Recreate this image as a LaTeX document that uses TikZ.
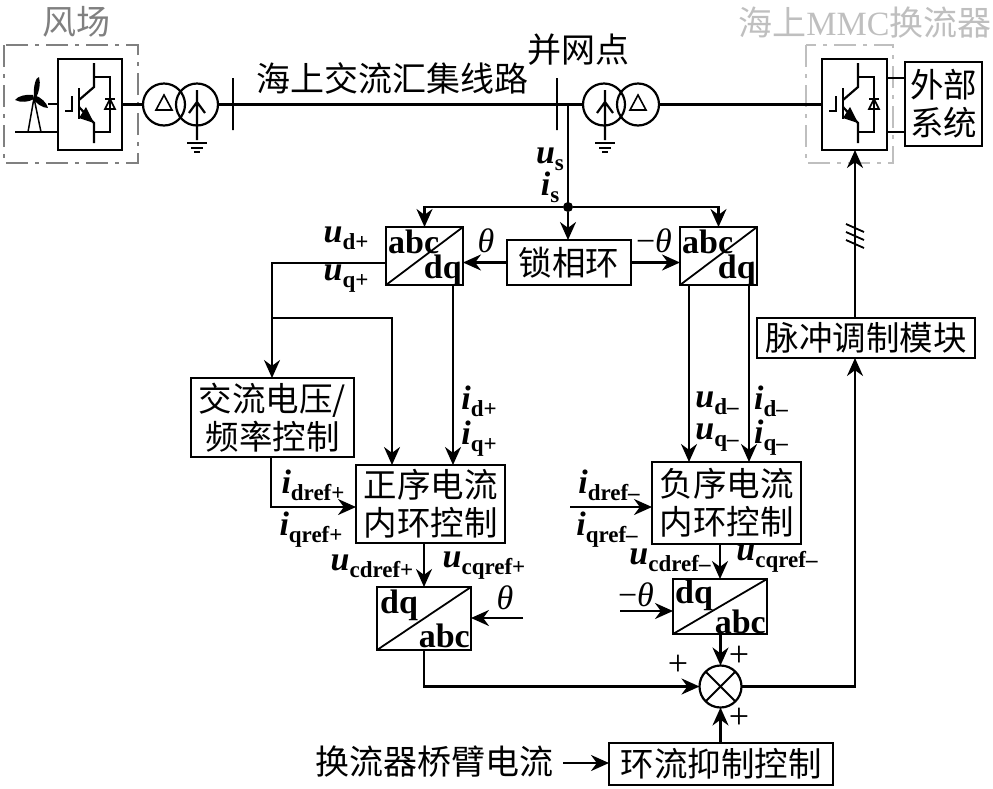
\documentclass[tikz,border=0pt]{standalone}
\usepackage{fontspec}
\setmainfont{Liberation Serif}
\newfontfamily\cjk{Noto Sans CJK SC}
\usetikzlibrary{arrows.meta,calc}
\tikzset{
  ctrl/.style={draw=black,line width=2.2pt,inner sep=0pt,outer sep=0pt,align=center,font=\cjk\fontsize{33.5}{38}\selectfont},
  park/.style={draw=black,line width=2.2pt,inner sep=0pt,outer sep=0pt},
  wire/.style={line width=2.2pt},
  sigin/.style={line width=2.2pt,-{Stealth[length=18pt,width=16pt]}},
  cntext/.style={inner sep=0pt,font=\cjk\fontsize{34}{38}\selectfont},
  sig/.style={inner sep=0pt,font=\fontsize{34}{34}\selectfont},
  symb/.style={inner sep=0pt,font=\bfseries\fontsize{34}{34}\selectfont},
  frame/.style={line width=1.8pt,dash pattern=on 22pt off 7pt on 4pt off 7pt},
  xfmr/.style={draw=black,circle,line width=2.2pt,minimum size=42pt,inner sep=0pt,outer sep=0pt},
}
\newcommand{\vsub}[2]{\textbf{\textit{#1}}{\bfseries\fontsize{23}{23}\selectfont\raisebox{-7pt}{#2}}}
\newcommand{\igbt}[1]{% x offset of the valve symbol
  \begin{scope}[xshift=#1pt]
    \draw[wire] (94,63) -- (94,87) -- (79,100);
    \draw[wire] (79,88) -- (79,119);
    \draw[wire] (72,96) -- (72,111) -- (65,111);
    \draw[wire] (79,107) -- (94,123) -- (94,143);
    \fill (94,123) -- (86,107) -- (79,118) -- cycle;
    \draw[wire] (94,77) -- (110,77) -- (110,132) -- (94,132);
    \draw[line width=1.6pt] (105,109) -- (115,109) -- (110,99) -- cycle;
    \draw[line width=1.8pt] (105,99) -- (115,99);
  \end{scope}
}
\newcommand{\earth}[2]{% x, y of the top conductor
  \draw[wire] (#1-10,#2) -- (#1+10,#2);
  \draw[wire] (#1-6,#2+5) -- (#1+6,#2+5);
  \draw[wire] (#1-3,#2+9) -- (#1+3,#2+9);
}
\begin{document}
\begin{tikzpicture}[x=1pt,y=-1pt]
  \useasboundingbox (0,0) rectangle (993,788);
  % wind farm side
  \draw[frame,gray] (4,45) rectangle (138,163);
  \node[cntext,gray] (farm) at (76,22) {风场};
  \node[park,minimum width=64pt,minimum height=91pt] (vsc) at (90,104.5) {};
  \igbt{0}
  \coordinate (gen) at (48,104);
  \coordinate (base) at (15,132);
  \draw[wire] (gen) -- (vsc.west |- gen);
  \draw[wire] (base) -- (vsc.west |- base);
  \draw[line width=1.5pt] (34,98) -- (28,132) (34,98) -- (41,132);
  \fill (34,97) .. controls (33,86) and (36,77) .. (39,77) .. controls (41,84) and (39,92) .. (36,98) -- cycle;
  \fill (33,95) .. controls (26,94) and (18,96) .. (15,100) .. controls (21,103) and (29,102) .. (34,99) -- cycle;
  \fill (34,95) .. controls (41,97) and (47,103) .. (48,108) .. controls (42,108) and (36,103) .. (33,99) -- cycle;
  \node[xfmr] (tr1a) at (164,104.5) {};
  \node[xfmr] (tr1b) at (197,104.5) {};
  \draw[wire] (vsc.east |- tr1a) -- (tr1a.west);
  \draw[line width=1.6pt] (156,110) -- (172,110) -- (164,95) -- cycle;
  \draw[wire] (197,90) -- (197,140) (189,113) -- (197,102) -- (205,113);
  \earth{197}{143}
  % collector line
  \node[wire,draw,inner sep=0pt,minimum width=0pt,minimum height=52pt] (bus1) at (233,104) {};
  \node[wire,draw,inner sep=0pt,minimum width=0pt,minimum height=52pt] (bus2) at (557,104) {};
  \node[cntext] (line) at (392,78) {海上交流汇集线路};
  \node[cntext] (pcc) at (578,50) {并网点};
  \node[xfmr] (tr2a) at (604,104.5) {};
  \node[xfmr] (tr2b) at (638,104.5) {};
  \draw[wire] (tr1b.east) -- (tr2a.west);
  \draw[line width=1.6pt] (630,110) -- (646,110) -- (638,95) -- cycle;
  \draw[wire] (605,90) -- (605,140) (597,113) -- (605,102) -- (613,113);
  \earth{605}{143}
  % offshore converter
  \draw[frame,gray!50] (806,45) rectangle (893,163);
  \node[font=\fontsize{34}{34}\selectfont,gray!50,inner sep=0pt] (mmc) at (865,23) {{\cjk 海上}MMC{\cjk 换流器}};
  \node[park,minimum width=65pt,minimum height=91pt] (valve) at (854.5,104.5) {};
  \igbt{764}
  \node[ctrl,minimum width=77pt,minimum height=84pt] (grid) at (943.5,104) {外部\\系统};
  \draw[wire] (tr2b.east) -- (valve.west |- tr2b);
  \draw[wire] (valve.east |- 0,78) -- (grid.west |- 0,78);
  \draw[wire] (valve.east |- 0,132) -- (grid.west |- 0,132);
  % phase-locked loop and dq transforms
  \node[ctrl,minimum width=124pt,minimum height=45pt] (pll) at (569,262.5) {锁相环};
  \node[park,minimum width=77pt,minimum height=58pt] (parkp) at (424.5,256) {};
  \node[park,minimum width=77pt,minimum height=58pt] (parkn) at (718.5,256) {};
  \draw[line width=1.8pt] (parkp.south west) -- (parkp.north east);
  \draw[line width=1.8pt] (parkn.south west) -- (parkn.north east);
  \node[symb,anchor=north west] (abcp) at (388,230) {abc};
  \node[symb,anchor=south east] (dqp) at (462,286) {dq};
  \node[symb,anchor=north west] (abcn) at (682,230) {abc};
  \node[symb,anchor=south east] (dqn) at (756,286) {dq};
  \node[fill=black,circle,inner sep=0pt,minimum size=10pt] (tap) at (568,207) {};
  \draw[wire] (tap |- bus1) -- (tap.center);
  \draw[sigin] (tap) -- (tap |- pll.north);
  \draw[sigin] (tap) -- (parkp.north |- tap) -- (parkp.north);
  \draw[sigin] (tap) -- (parkn.north |- tap) -- (parkn.north);
  \draw[sigin] (pll.west) -- (pll.west -| parkp.east);
  \draw[sigin] (pll.east) -- (pll.east -| parkn.west);
  \node[sig] (us) at (550,159) {\vsub{u}{s}};
  \node[sig] (is) at (550,187) {\vsub{i}{s}};
  \node[sig] (thp) at (486,241) {\textit{θ}};
  \node[sig] (thn) at (654,241) {−\textit{θ}};
  % positive sequence branch
  \node[ctrl,minimum width=163pt,minimum height=79pt] (acv) at (272.5,417.5) {交流电压/\\频率控制};
  \node[ctrl,minimum width=149pt,minimum height=78pt] (ccp) at (430.5,504) {正序电流\\内环控制};
  \node[park,minimum width=94pt,minimum height=63pt] (invp) at (424,618.5) {};
  \draw[line width=1.8pt] (invp.south west) -- (invp.north east);
  \node[symb,anchor=north west] (dqip) at (380,590) {dq};
  \node[symb,anchor=south east] (abcip) at (470,648) {abc};
  \coordinate (udp) at (272,263);
  \coordinate (uqp) at (272,318);
  \draw[sigin] (parkp.west |- udp) -- (udp) -- (acv.north -| udp);
  \draw[sigin] (uqp) -- (392,318) -- (392,465);
  \draw[sigin] (453,285) -- (453,465);
  \draw[sigin] (acv.south -| 271,0) -- (271,507) -- (ccp.west |- 0,507);
  \draw[sigin] (ccp.south -| invp.north) -- (invp.north);
  \coordinate (thpin) at (523,618);
  \draw[sigin] (thpin) -- (invp.east |- thpin);
  \node[sig] (udpl) at (346,238) {\vsub{u}{d+}};
  \node[sig] (uqpl) at (346,279) {\vsub{u}{q+}};
  \node[sig] (idpl) at (479,401) {\vsub{i}{d+}};
  \node[sig] (iqpl) at (479,439) {\vsub{i}{q+}};
  \node[sig] (idrp) at (313,485) {\vsub{i}{dref+}};
  \node[sig] (iqrp) at (311,530) {\vsub{i}{qref+}};
  \node[sig] (ucdp) at (372,566) {\vsub{u}{cdref+}};
  \node[sig] (ucqp) at (484,566) {\vsub{u}{cqref+}};
  \node[sig] (thin) at (505,598) {\textit{θ}};
  % negative sequence branch
  \node[ctrl,minimum width=149pt,minimum height=82pt] (ccn) at (726.5,503) {负序电流\\内环控制};
  \node[park,minimum width=94pt,minimum height=55pt] (invn) at (720,606.5) {};
  \draw[line width=1.8pt] (invn.south west) -- (invn.north east);
  \node[symb,anchor=north west] (dqin) at (675,580) {dq};
  \node[symb,anchor=south east] (abcin) at (766,634) {abc};
  \draw[sigin] (689,285) -- (689,462);
  \draw[sigin] (749,285) -- (749,462);
  \coordinate (idn) at (570,507);
  \draw[sigin] (idn) -- (ccn.west |- idn);
  \draw[sigin] (ccn.south -| invn.north) -- (invn.north);
  \coordinate (thnin) at (620,611);
  \draw[sigin] (thnin) -- (invn.west |- thnin);
  \node[sig] (udnl) at (717,403) {\vsub{u}{d–}};
  \node[sig] (uqnl) at (717,438) {\vsub{u}{q–}};
  \node[sig] (idnl) at (771,401) {\vsub{i}{d–}};
  \node[sig] (iqnl) at (771,438) {\vsub{i}{q–}};
  \node[sig] (idrn) at (609,485) {\vsub{i}{dref–}};
  \node[sig] (iqrn) at (607,530) {\vsub{i}{qref–}};
  \node[sig] (ucdn) at (670,560) {\vsub{u}{cdref–}};
  \node[sig] (ucqn) at (777,559) {\vsub{u}{cqref–}};
  \node[sig] (thnl) at (636,595) {−\textit{θ}};
  % summing junction and modulation
  \node[draw=black,circle,line width=2.2pt,minimum size=42pt,inner sep=0pt,outer sep=0pt] (sum) at (720.5,686.5) {};
  \draw[line width=1.8pt] (sum.north west) -- (sum.south east) (sum.north east) -- (sum.south west);
  \node[ctrl,minimum width=224pt,minimum height=42pt] (ccsc) at (721,764) {环流抑制控制};
  \node[ctrl,minimum width=218pt,minimum height=40pt] (pwm) at (866,338) {脉冲调制模块};
  \node[cntext] (arm) at (434,762) {换流器桥臂电流};
  \draw[sigin] (invn.south -| sum.north) -- (sum.north);
  \draw[sigin] (invp.south) -- (invp.south |- sum.west) -- (sum.west);
  \draw[sigin] (ccsc.north -| sum.south) -- (sum.south);
  \coordinate (pwmin) at (855,686.5);
  \draw[sigin] (sum.east) -- (pwmin) -- (pwm.south -| pwmin);
  \draw[sigin] (pwm.north -| pwmin) -- (valve.south -| pwmin);
  \draw[line width=1.8pt] (846,232) -- (864,240) (846,240) -- (864,248) (846,224) -- (864,232);
  \coordinate (armout) at (563,763);
  \draw[sigin] (armout) -- (ccsc.west |- armout);
  \node[sig,font=\fontsize{36}{36}\selectfont] (pl) at (678,665) {+};
  \node[sig,font=\fontsize{36}{36}\selectfont] (pt) at (739,656) {+};
  \node[sig,font=\fontsize{36}{36}\selectfont] (pb) at (739,718) {+};
\end{tikzpicture}
\end{document}
